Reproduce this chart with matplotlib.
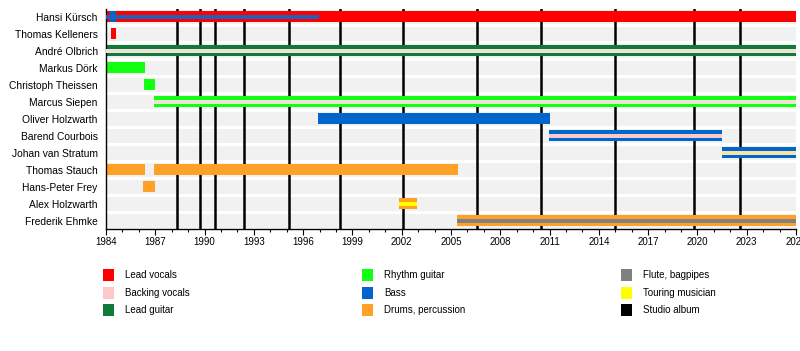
import matplotlib
matplotlib.use("Agg")
import matplotlib.pyplot as plt
from matplotlib.patches import Rectangle

plt.rcParams['font.family'] = ['Liberation Sans', 'DejaVu Sans']

members = ["Hansi Kürsch", "Thomas Kelleners", "André Olbrich", "Markus Dörk",
           "Christoph Theissen", "Marcus Siepen", "Oliver Holzwarth",
           "Barend Courbois", "Johan van Stratum", "Thomas Stauch",
           "Hans-Peter Frey", "Alex Holzwarth", "Frederik Ehmke"]

role_names = ["Lead vocals", "Backing vocals", "Lead guitar", "Rhythm guitar", "Bass",
              "Drums, percussion", "Flute, bagpipes", "Touring musician", "Studio album"]
role_colors = ["#ff0000", "#ffc8c8", "#0f7a3a", "#11ff11", "#0066cc",
               "#ffa126", "#808080", "#ffff00", "#000000"]

# (member, start, end, role) - full-height bars
main_bars = [
    ("Hansi Kürsch", 1984.0, 2026.0, "Lead vocals"),
    ("Hansi Kürsch", 1984.25, 1984.6, "Bass"),
    ("Thomas Kelleners", 1984.3, 1984.6, "Lead vocals"),
    ("André Olbrich", 1984.0, 2026.0, "Lead guitar"),
    ("Markus Dörk", 1984.0, 1986.37, "Rhythm guitar"),
    ("Christoph Theissen", 1986.3, 1986.98, "Rhythm guitar"),
    ("Marcus Siepen", 1986.92, 2026.0, "Rhythm guitar"),
    ("Oliver Holzwarth", 1996.9, 2011.0, "Bass"),
    ("Barend Courbois", 2010.96, 2021.5, "Bass"),
    ("Johan van Stratum", 2021.5, 2026.0, "Bass"),
    ("Thomas Stauch", 1984.0, 1986.37, "Drums, percussion"),
    ("Thomas Stauch", 1986.92, 2005.4, "Drums, percussion"),
    ("Hans-Peter Frey", 1986.25, 1986.98, "Drums, percussion"),
    ("Alex Holzwarth", 2001.83, 2002.93, "Drums, percussion"),
    ("Frederik Ehmke", 2005.36, 2026.0, "Drums, percussion"),
]

# (member, start, end, stripe colour) - thin inner stripes
inner_bars = [
    ("Hansi Kürsch", 1984.0, 1996.96, "#1f5fc0"),
    ("André Olbrich", 1984.0, 2026.0, "#f0e2d6"),
    ("Marcus Siepen", 1986.92, 2026.0, "#f0e2d6"),
    ("Barend Courbois", 2010.96, 2021.5, "#ffc8c8"),
    ("Johan van Stratum", 2021.5, 2026.0, "#fce3a4"),
    ("Alex Holzwarth", 2001.83, 2002.93, "#ffff00"),
    ("Frederik Ehmke", 2005.36, 2026.0, "#808080"),
]

albums = [1988.3, 1989.75, 1990.65, 1992.4, 1995.15, 1998.25,
          2002.1, 2006.6, 2010.5, 2015.0, 2019.8, 2022.6]

year_start, year_end = 1984, 2026
major_ticks = list(range(1984, 2027, 3))

color_of = dict(zip(role_names, role_colors))
row_of = {m: i for i, m in enumerate(members)}

fig = plt.figure(figsize=(8.0, 3.51), dpi=100)
ax = fig.add_axes([106/800, 1 - 229/351, 690/800, 220/351])

# background bands
for i, m in enumerate(members):
    ax.barh(i, year_end - year_start, left=year_start, height=0.84,
            color="#f1f1f1", zorder=0, linewidth=0)

for a in albums:
    ax.axvline(a, color="black", lw=1.8, zorder=1)

for m, s, e, r in main_bars:
    ax.barh(row_of[m], e - s, left=s, height=0.68, color=color_of[r],
            zorder=2, linewidth=0)
for m, s, e, c in inner_bars:
    ax.barh(row_of[m], e - s, left=s, height=0.24, color=c,
            zorder=3, linewidth=0)

ax.set_xlim(year_start, year_end)
ax.set_ylim(12.49, -0.45)
ax.set_yticks(range(len(members)))
ax.set_yticklabels(members, fontsize=7.4)
ax.tick_params(axis='y', length=0, pad=6)
ax.set_xticks(major_ticks)
ax.set_xticklabels([str(t) for t in major_ticks], fontsize=7)
ax.set_xticks(range(year_start, year_end + 1), minor=True)
ax.tick_params(axis='x', which='major', length=4, width=0.8, pad=2)
ax.tick_params(axis='x', which='minor', length=2.5, width=0.8)
for sp in ["top", "right"]:
    ax.spines[sp].set_visible(False)
ax.spines["left"].set_linewidth(1.0)
ax.spines["bottom"].set_linewidth(1.0)

# legend
col_x = [103, 362, 621]
row_y = [275, 293, 310]
for k, (name, col) in enumerate(zip(role_names, role_colors)):
    cx = col_x[k // 3]
    cy = row_y[k % 3]
    fig.patches.append(Rectangle(((cx) / 800, 1 - (cy + 6) / 351), 11 / 800, 12 / 351,
                                 transform=fig.transFigure, facecolor=col,
                                 edgecolor="none"))
    fig.text((cx + 22) / 800, 1 - cy / 351, name, fontsize=7, va="center", ha="left")

fig.savefig("out.png", dpi=100)
